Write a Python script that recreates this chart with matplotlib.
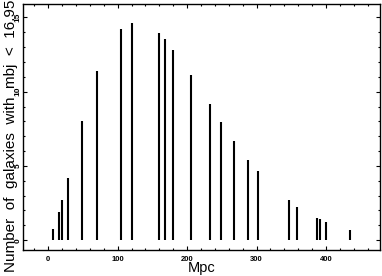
import matplotlib
matplotlib.use("Agg")
import matplotlib.pyplot as plt
from matplotlib.ticker import MultipleLocator

# distance bins (Mpc) and galaxy counts
mpc = [7.2, 15.0, 20.2, 28.4, 48.1, 70.2, 105.2, 120.6, 160.0, 168.6, 180.1,
       205.0, 233.0, 249.3, 268.0, 288.2, 302.2, 346.4, 358.4, 386.7, 391.0,
       399.6, 435.2]
counts = [0.75, 1.9, 2.69, 4.19, 8.03, 11.39, 14.22, 14.63, 13.93, 13.53, 12.83,
          11.1, 9.15, 7.98, 6.68, 5.4, 4.64, 2.69, 2.24, 1.49, 1.43,
          1.23, 0.71]

plt.rcParams['font.family'] = ['Liberation Sans', 'DejaVu Sans']

fig = plt.figure(figsize=(3.82, 2.76), dpi=100)
ax = fig.add_axes([0.061, 0.0942, 0.934, 0.8913])

ax.vlines(mpc, 0, counts, colors='black', linewidth=1.5)

ax.set_xlim(-36, 478)
ax.set_ylim(-0.66, 15.9)

ax.xaxis.set_major_locator(MultipleLocator(100))
ax.xaxis.set_minor_locator(MultipleLocator(20))
ax.yaxis.set_major_locator(MultipleLocator(5))
ax.yaxis.set_minor_locator(MultipleLocator(1))

ax.tick_params(which='both', direction='in', top=True, right=True, width=0.8)
ax.tick_params(which='major', length=3)
ax.tick_params(which='minor', length=1.5)
ax.tick_params(axis='x', which='major', pad=4, labelsize=5.5)
ax.tick_params(axis='y', which='major', pad=1, labelsize=6, labelrotation=90)
for lab in ax.get_xticklabels() + ax.get_yticklabels():
    lab.set_fontweight('bold')
for lab in ax.get_yticklabels():
    lab.set_verticalalignment('center')

for sp in ax.spines.values():
    sp.set_linewidth(1.0)

ax.set_xlabel("Mpc", fontsize=10.5)
ax.xaxis.set_label_coords(0.5, -0.045)
ax.set_ylabel("Number  of  galaxies  with  mbj  <  16.95", fontsize=11)
ax.yaxis.set_label_coords(-0.014, 0.465)

fig.savefig("out.png", dpi=100)
